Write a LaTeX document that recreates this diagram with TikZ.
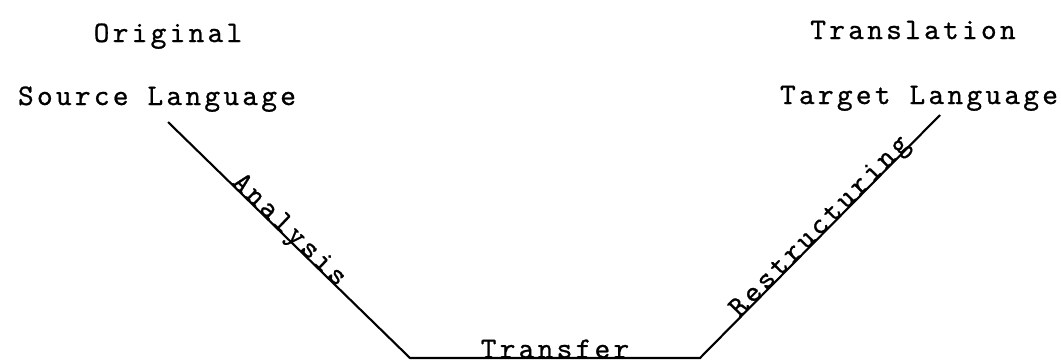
\documentclass[tikz,border=0pt]{standalone}
\usepackage{fontspec}
\setmonofont{lmmono10-regular.otf}[LetterSpace=11,FakeBold=0.8]
\usepackage{tikz}

\begin{document}
\begin{tikzpicture}[x=0.02cm,y=-0.02cm]
\tikzstyle{every node}=[font=\ttfamily\fontsize{17}{20}\selectfont,inner sep=0pt]
\useasboundingbox (0,0) rectangle (1061,360);
\node[anchor=base] (orig) at (168,42) {Original};
\node[anchor=base] (src) at (157,105) {Source Language};
\node[anchor=base] (trans) at (913,39) {Translation};
\node[anchor=base] (tgt) at (919,104) {Target Language};
\coordinate (s) at (168,122);
\coordinate (l) at (410,358);
\coordinate (r) at (700,358);
\coordinate (t) at (940,115);
\draw[line width=1.2pt] (s) -- node[sloped,pos=0.48,anchor=base] (ana) {Analysis} (l)
  -- node[anchor=base] (tr) {Transfer} (r)
  -- node[sloped,pos=0.52,anchor=base] (res) {Restructuring} (t);
\end{tikzpicture}
\end{document}
